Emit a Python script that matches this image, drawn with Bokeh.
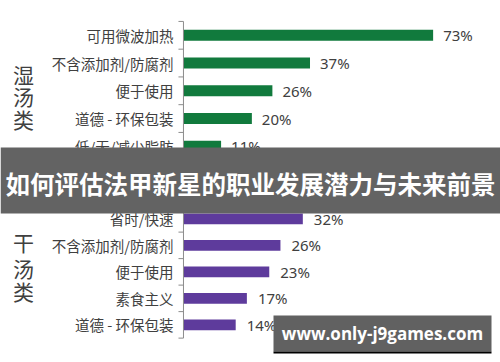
import math
from bokeh.plotting import figure
from bokeh.models import Range1d, Label, BoxAnnotation, ColumnDataSource
from bokeh.embed import file_html
from bokeh.resources import INLINE
from bokeh.core.properties import value

# ---- data ----
wet_labels = ["可用微波加热", "不含添加剂/防腐剂", "便于使用", "道德 - 环保包装", "低/无/减少脂肪"]
wet_values = [73, 37, 26, 20, 11]
dry_labels = ["省时/快速", "不含添加剂/防腐剂", "便于使用", "素食主义", "道德 - 环保包装"]
dry_values = [32, 26, 23, 17, 14]
wet_group = ["湿", "汤", "类"]
dry_group = ["干", "汤", "类"]
title_text = "如何评估法甲新星的职业发展潜力与未来前景"
watermark_text = "www.only-j9games.com"

GREEN = "#117A3D"
PURPLE = "#5E3B9C"
TEXT = "#404040"
AXIS = "#8c8c8c"
CJK = "Noto Sans CJK SC"

wet_y = list(range(len(wet_labels)))
dry_y = list(range(len(dry_labels)))

p = figure(width=500, height=362, output_backend="svg", toolbar_location=None,
           x_range=Range1d(-53.5, 92.7), y_range=Range1d(11.79, -1.254),
           x_axis_location=None, y_axis_location=None,
           min_border_left=0, min_border_right=0, min_border_top=0, min_border_bottom=0)
p.title.visible = False
p.outline_line_color = None
p.xgrid.visible = False
p.ygrid.visible = False
p.extra_x_ranges = {"dry": Range1d(-49.06, 85)}
p.extra_y_ranges = {"dry": Range1d(5.42, -8.24)}


def draw_group(labels, vals, ys, color, off, xr, yr):
    src = ColumnDataSource(dict(y=ys, v=vals, t=[f"{v}%" for v in vals], lab=labels))
    kw = dict(x_range_name=xr, y_range_name=yr)
    p.hbar(y="y", left=0, right="v", height=0.4, source=src, fill_color=color, line_color=None, **kw)
    p.text(x="v", y="y", text="t", source=src, x_offset=off, text_baseline="middle", text_align="left",
           text_font=value("Noto Sans"), text_font_size="15px", text_color=TEXT, **kw)
    # category labels (axis labels)
    p.text(x=0, y="y", text="lab", source=src, x_offset=-10, text_baseline="middle", text_align="right",
           text_font=value(CJK), text_font_size="14.5px", text_color=TEXT, **kw)
    # axis line and boundary ticks
    bounds = [y - 0.5 for y in ys] + [ys[-1] + 0.5]
    p.segment(x0=0, y0=min(bounds), x1=0, y1=max(bounds), line_color=AXIS, line_width=1, **kw)
    p.ray(x=[0] * len(bounds), y=bounds, length=5, length_units="screen", angle=math.pi,
          line_color=AXIS, line_width=1, **kw)


draw_group(wet_labels, wet_values, wet_y, GREEN, 10, "default", "default")
draw_group(dry_labels, dry_values, dry_y, PURPLE, 11, "dry", "dry")

# group labels (stacked characters)
for chars, ys, yr in ((wet_group, [1.38, 2.17, 3.0], "default"), (dry_group, [0.89, 1.84, 2.71], "dry")):
    for ch, yy in zip(chars, ys):
        p.add_layout(Label(x=23, x_units="screen", y=yy, y_units="data", y_range_name=yr,
                           text=ch, text_align="center", text_baseline="middle",
                           text_font=CJK, text_font_size="21px", text_color=TEXT))

# banner overlay
p.add_layout(BoxAnnotation(top=4.04, bottom=6.42, fill_color="#636363", fill_alpha=1.0,
                           line_color=None))
p.add_layout(Label(x=250, x_units="screen", y=5.34, y_units="data", text=title_text,
                   text_align="center", text_baseline="middle", text_font=CJK,
                   text_font_style="bold", text_font_size="24.5px", text_color="white"))

# watermark
p.add_layout(BoxAnnotation(left=273, right=491, left_units="screen", right_units="screen",
                           top=10.10, bottom=11.39, fill_color="#616161", fill_alpha=1.0,
                           line_color=None))
p.add_layout(BoxAnnotation(left=273, right=491, left_units="screen", right_units="screen",
                           top=11.39, bottom=11.47, fill_color="#000000", fill_alpha=1.0,
                           line_color=None))
p.add_layout(Label(x=382, x_units="screen", y=10.75, y_units="data", text=watermark_text,
                   text_align="center", text_baseline="middle", text_font="Open Sans",
                   text_font_style="bold", text_font_size="17px", text_color="white"))

open("out.html", "w").write(file_html(p, INLINE))
